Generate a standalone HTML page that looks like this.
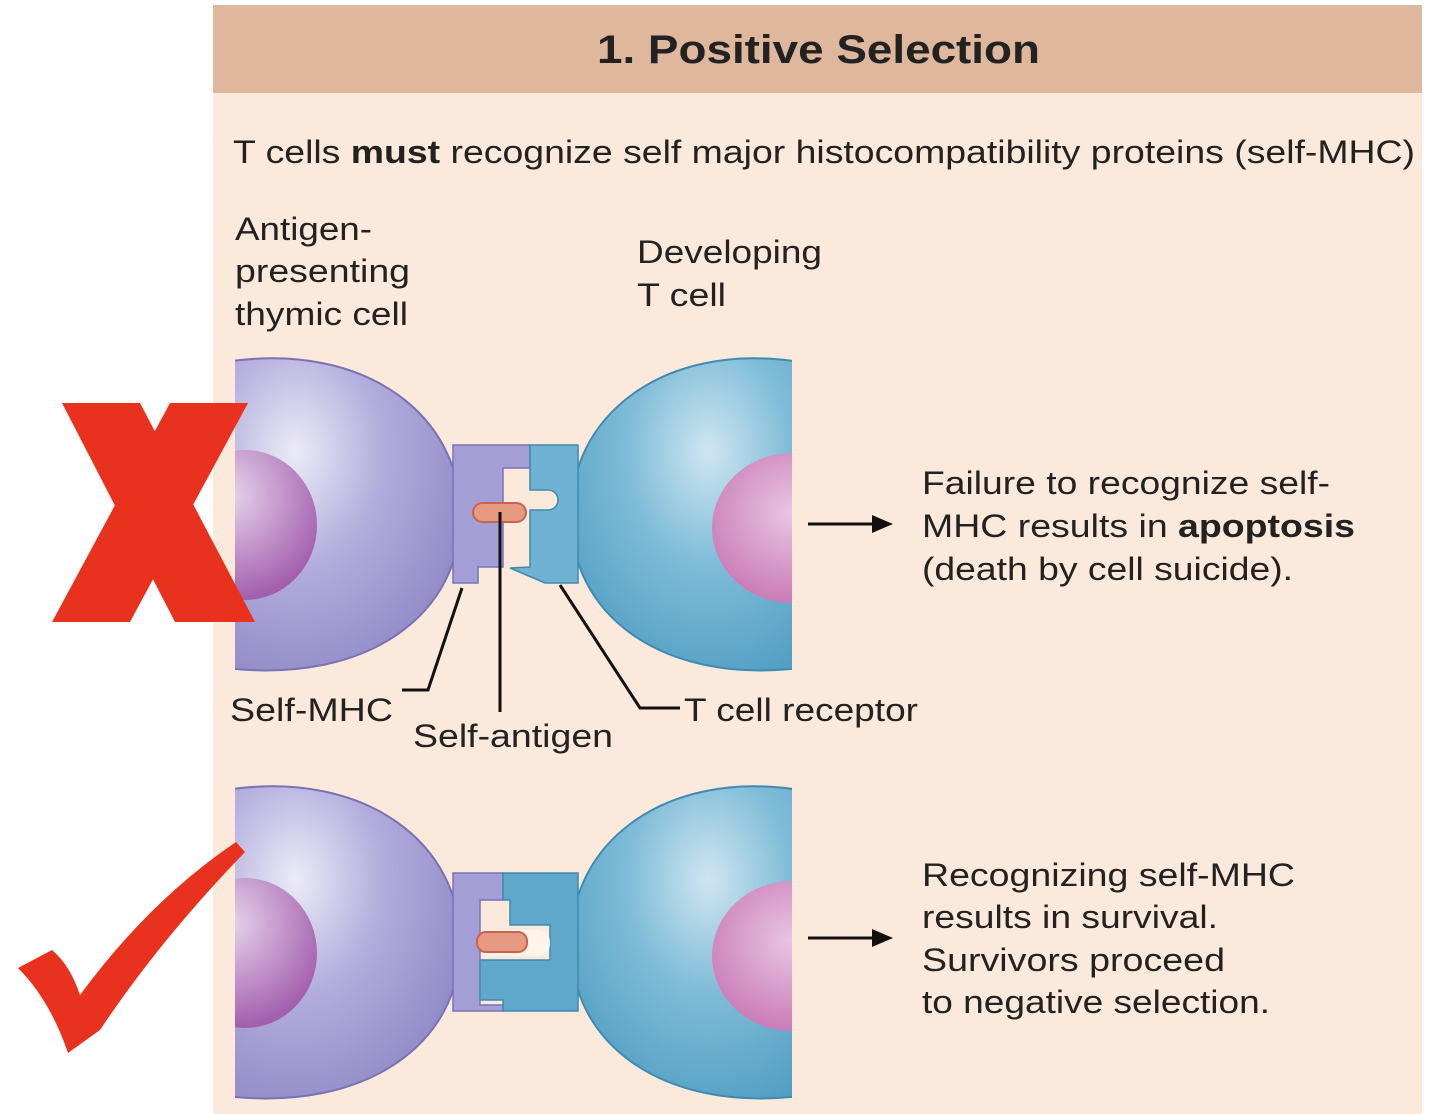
<!DOCTYPE html>
<html><head><meta charset="utf-8"><style>
html,body{margin:0;padding:0;background:#fff;}
svg{display:block;}
text{font-family:"Liberation Sans",Arial,sans-serif;fill:#222;}
</style></head><body>
<svg width="1440" height="1114" viewBox="0 0 1440 1114" xmlns="http://www.w3.org/2000/svg">
<defs>
<radialGradient id="pg" cx="0.3" cy="0.3" r="0.8">
<stop offset="0" stop-color="#ecebf7"/><stop offset="0.45" stop-color="#b3aedd"/><stop offset="1" stop-color="#8f88c6"/>
</radialGradient>
<radialGradient id="bg" cx="0.6" cy="0.3" r="0.8">
<stop offset="0" stop-color="#cfe6f1"/><stop offset="0.45" stop-color="#7fbcd8"/><stop offset="1" stop-color="#4f9cc2"/>
</radialGradient>
<radialGradient id="nl" cx="0.4" cy="0.3" r="0.8">
<stop offset="0" stop-color="#e6d3ea"/><stop offset="1" stop-color="#9a4ea6"/>
</radialGradient>
<radialGradient id="nr" cx="0.5" cy="0.4" r="0.8">
<stop offset="0" stop-color="#e8c6e4"/><stop offset="1" stop-color="#c063a8"/>
</radialGradient>
<clipPath id="cl"><rect x="235" y="0" width="600" height="1114"/></clipPath>
<clipPath id="cr"><rect x="400" y="0" width="392" height="1114"/></clipPath>
<g id="pair">
<g clip-path="url(#cl)">
<path d="M225,362 C370,340 462,420 460,515 C462,612 370,685 225,668 Z" fill="url(#pg)" stroke="#7a72b5" stroke-width="2"/>
<ellipse cx="245" cy="525" rx="72" ry="75" fill="url(#nl)"/>
</g>
<g clip-path="url(#cr)">
<path d="M800,362 C660,340 568,420 572,515 C568,612 660,685 800,668 Z" fill="url(#bg)" stroke="#3f8ab0" stroke-width="2"/>
<ellipse cx="792" cy="528" rx="80" ry="75" fill="url(#nr)"/>
</g>
</g>
</defs>
<rect x="213" y="5" width="1209" height="1109" fill="#fbeadb"/>
<rect x="213" y="5" width="1209" height="88" fill="#deb79c"/>
<text x="597" y="63" font-size="40" font-weight="bold" textLength="443" lengthAdjust="spacingAndGlyphs">1. Positive Selection</text>
<text x="233" y="163" font-size="32" textLength="1182" lengthAdjust="spacingAndGlyphs">T cells <tspan font-weight="bold">must</tspan> recognize self major histocompatibility proteins (self-MHC)</text>
<text x="235" y="240" font-size="32" textLength="137" lengthAdjust="spacingAndGlyphs">Antigen-</text>
<text x="235" y="282" font-size="32" textLength="175" lengthAdjust="spacingAndGlyphs">presenting</text>
<text x="235" y="325" font-size="32" textLength="173" lengthAdjust="spacingAndGlyphs">thymic cell</text>
<text x="637" y="263" font-size="32" textLength="185" lengthAdjust="spacingAndGlyphs">Developing</text>
<text x="637" y="306" font-size="32" textLength="89" lengthAdjust="spacingAndGlyphs">T cell</text>

<!-- top pair -->
<use href="#pair"/>
<path d="M453,445 L530,445 L530,468 L503,468 L503,567 L478,567 L478,583 L453,583 Z" fill="#a49ed6" stroke="#7a72b5" stroke-width="1.5"/>
<path d="M530,445 L578,445 L578,583 L545,583 L510,568 L530,567 L530,510 L548,510 A10,10 0 0 0 548,490 L530,490 Z" fill="#6fb2d3" stroke="#3f8ab0" stroke-width="1.5"/>
<rect x="473" y="503" width="53" height="19" rx="9.5" fill="#e79a82" stroke="#c8644e" stroke-width="2"/>
<g stroke="#111" stroke-width="3" fill="none">
<polyline points="462,588 428,690 402,690"/>
<line x1="500" y1="512" x2="500" y2="712"/>
<polyline points="560,585 640,708 680,708"/>
</g>
<text x="230" y="721" font-size="32" textLength="163" lengthAdjust="spacingAndGlyphs">Self-MHC</text>
<text x="413" y="747" font-size="32" textLength="200" lengthAdjust="spacingAndGlyphs">Self-antigen</text>
<text x="684" y="721" font-size="32" textLength="234" lengthAdjust="spacingAndGlyphs">T cell receptor</text>
<line x1="808" y1="524" x2="875" y2="524" stroke="#111" stroke-width="3"/>
<polygon points="893,524 872,515 872,533" fill="#111"/>
<text x="922" y="494" font-size="32" textLength="408" lengthAdjust="spacingAndGlyphs">Failure to recognize self-</text>
<text x="922" y="537" font-size="32" textLength="433" lengthAdjust="spacingAndGlyphs">MHC results in <tspan font-weight="bold">apoptosis</tspan></text>
<text x="922" y="580" font-size="32" textLength="371" lengthAdjust="spacingAndGlyphs">(death by cell suicide).</text>

<!-- bottom pair -->
<use href="#pair" transform="translate(0,428)"/>
<path d="M453,873 L503,873 L503,900 L480,900 L480,1005 L503,1005 L503,1011 L453,1011 Z" fill="#a49ed6" stroke="#7a72b5" stroke-width="1.5"/>
<path d="M503,873 L578,873 L578,1011 L503,1011 L503,1000 L480,1000 L480,960 L550,960 L550,925 L510,925 L510,900 L503,900 Z" fill="#5fa8cc" stroke="#3f8ab0" stroke-width="1.5"/>
<rect x="480" y="930" width="70" height="26" rx="12" fill="#fff4ec"/>
<rect x="477" y="932" width="50" height="20" rx="9" fill="#e79a82" stroke="#c8644e" stroke-width="2"/>
<line x1="808" y1="938" x2="875" y2="938" stroke="#111" stroke-width="3"/>
<polygon points="893,938 872,929 872,947" fill="#111"/>
<text x="922" y="886" font-size="32" textLength="373" lengthAdjust="spacingAndGlyphs">Recognizing self-MHC</text>
<text x="922" y="928" font-size="32" textLength="296" lengthAdjust="spacingAndGlyphs">results in survival.</text>
<text x="922" y="971" font-size="32" textLength="303" lengthAdjust="spacingAndGlyphs">Survivors proceed</text>
<text x="922" y="1013" font-size="32" textLength="348" lengthAdjust="spacingAndGlyphs">to negative selection.</text>

<!-- red X -->
<polygon points="62,403 140,403 255,622 175,622" fill="#e8321e"/>
<polygon points="170,403 248,403 130,622 52,622" fill="#e8321e"/>
<!-- red check -->
<path d="M18,968 L52,950 Q70,965 80,995 Q150,900 236,842 L245,852 Q160,940 100,1030 L68,1053 Q50,1000 18,968 Z" fill="#e8321e"/>
</svg>
</body></html>
